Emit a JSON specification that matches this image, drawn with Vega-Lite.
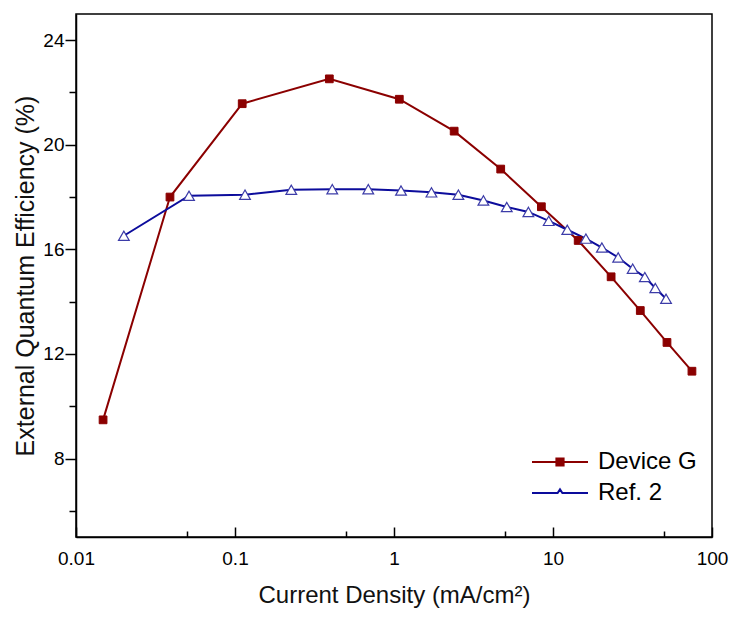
{
  "$schema": "https://vega.github.io/schema/vega-lite/v6.json",
  "width": 636,
  "height": 523,
  "autosize": {"type": "none"},
  "padding": {"left": 76, "top": 14, "right": 22, "bottom": 82},
  "background": "white",
  "config": {
    "font": "Liberation Sans",
    "view": {"stroke": "black", "strokeWidth": 1.5},
    "axis": {
      "domainColor": "black", "domainWidth": 1.5,
      "tickColor": "black", "tickWidth": 1.5,
      "labelColor": "black", "labelFont": "Liberation Sans", "labelFontSize": 19,
      "titleColor": "#111", "titleFont": "Liberation Sans", "titleFontSize": 24, "titleFontWeight": "normal",
      "grid": false
    }
  },
  "data": {
    "values": [
      {"series": "Device G", "j": 0.0148, "eqe": 9.48},
      {"series": "Device G", "j": 0.039, "eqe": 18.0},
      {"series": "Device G", "j": 0.111, "eqe": 21.57},
      {"series": "Device G", "j": 0.392, "eqe": 22.52},
      {"series": "Device G", "j": 1.08, "eqe": 21.74},
      {"series": "Device G", "j": 2.39, "eqe": 20.52},
      {"series": "Device G", "j": 4.69, "eqe": 19.07},
      {"series": "Device G", "j": 8.45, "eqe": 17.63},
      {"series": "Device G", "j": 14.4, "eqe": 16.34},
      {"series": "Device G", "j": 23.2, "eqe": 14.95},
      {"series": "Device G", "j": 35.4, "eqe": 13.66},
      {"series": "Device G", "j": 52.1, "eqe": 12.44},
      {"series": "Device G", "j": 74.8, "eqe": 11.34},
      {"series": "Ref. 2", "j": 0.02, "eqe": 16.52},
      {"series": "Ref. 2", "j": 0.0514, "eqe": 18.05},
      {"series": "Ref. 2", "j": 0.1156, "eqe": 18.09},
      {"series": "Ref. 2", "j": 0.226, "eqe": 18.28},
      {"series": "Ref. 2", "j": 0.409, "eqe": 18.3},
      {"series": "Ref. 2", "j": 0.689, "eqe": 18.3},
      {"series": "Ref. 2", "j": 1.107, "eqe": 18.25},
      {"series": "Ref. 2", "j": 1.72, "eqe": 18.18},
      {"series": "Ref. 2", "j": 2.54, "eqe": 18.09},
      {"series": "Ref. 2", "j": 3.65, "eqe": 17.87},
      {"series": "Ref. 2", "j": 5.12, "eqe": 17.62},
      {"series": "Ref. 2", "j": 7.0, "eqe": 17.43},
      {"series": "Ref. 2", "j": 9.4, "eqe": 17.09},
      {"series": "Ref. 2", "j": 12.3, "eqe": 16.75},
      {"series": "Ref. 2", "j": 16.1, "eqe": 16.41},
      {"series": "Ref. 2", "j": 20.3, "eqe": 16.07},
      {"series": "Ref. 2", "j": 25.7, "eqe": 15.69},
      {"series": "Ref. 2", "j": 31.7, "eqe": 15.26},
      {"series": "Ref. 2", "j": 37.8, "eqe": 14.94},
      {"series": "Ref. 2", "j": 44.0, "eqe": 14.52},
      {"series": "Ref. 2", "j": 51.4, "eqe": 14.11}
    ]
  },
  "resolve": {"axis": {"x": "independent", "y": "independent"}},
  "layer": [
    {
      "mark": {"type": "line", "strokeWidth": 2},
      "encoding": {
        "x": {
          "field": "j", "type": "quantitative",
          "scale": {"type": "log", "domain": [0.01, 100], "nice": false},
          "axis": {
            "orient": "bottom",
            "values": [0.01, 0.1, 1, 10, 100],
            "labelExpr": "datum.value < 0.05 ? '0.01' : datum.value < 0.5 ? '0.1' : datum.value < 5 ? '1' : datum.value < 50 ? '10' : '100'",
            "tickSize": -10,
            "labelPadding": 22,
            "labelFlush": false,
            "labelOverlap": false,
            "title": "Current Density (mA/cm²)",
            "titlePadding": 15
          }
        },
        "y": {
          "field": "eqe", "type": "quantitative",
          "scale": {"domain": [5, 25], "nice": false, "zero": false},
          "axis": {
            "orient": "left",
            "values": [8, 12, 16, 20, 24],
            "tickSize": 11,
            "labelPadding": 1,
            "title": "External Quantum Efficiency (%)",
            "titleFontSize": 25,
            "titlePadding": 4
          }
        },
        "color": {
          "field": "series", "type": "nominal",
          "scale": {"domain": ["Device G", "Ref. 2"], "range": ["#8B0000", "#0C0C9C"]},
          "legend": {
            "orient": "none",
            "legendX": 472,
            "legendY": 436,
            "title": null,
            "padding": 0,
            "symbolSize": 256,
            "symbolStrokeWidth": 2,
            "labelFont": "Liberation Sans",
            "labelFontSize": 24,
            "labelColor": "black",
            "labelOffset": 26,
            "rowPadding": 7,
            "encode": {
              "symbols": {
                "update": {
                  "shape": {"signal": "datum.value == 'Device G' ? 'M-3.5,0H3.5M-0.45,-0.45H0.45V0.45H-0.45Z' : 'M-3.5,0H-0.3L0,-0.45L0.3,0H3.5'"},
                  "fill": {"signal": "datum.value == 'Device G' ? '#8B0000' : 'transparent'"},
                  "stroke": {"signal": "datum.value == 'Device G' ? '#8B0000' : '#0C0C9C'"},
                  "strokeWidth": {"value": 2}
                }
              }
            }
          }
        }
      }
    },
    {
      "transform": [{"filter": "datum.series == 'Device G'"}],
      "mark": {"type": "point", "shape": "square", "filled": true, "fill": "#8B0000", "stroke": "#8B0000", "strokeWidth": 1, "size": 60, "opacity": 1},
      "encoding": {
        "x": {
          "field": "j", "type": "quantitative",
          "axis": {
            "orient": "bottom",
            "values": [0.05, 0.5, 5, 50],
            "labels": false,
            "domain": false,
            "tickSize": -6,
            "title": null
          }
        },
        "y": {
          "field": "eqe", "type": "quantitative",
          "axis": {
            "orient": "left",
            "values": [6, 10, 14, 18, 22],
            "labels": false,
            "domain": false,
            "tickSize": 7,
            "title": null
          }
        }
      }
    },
    {
      "transform": [{"filter": "datum.series == 'Ref. 2'"}],
      "mark": {"type": "point", "shape": "triangle-up", "filled": true, "fill": "#ffffff", "stroke": "#3C3CA8", "strokeWidth": 1.2, "size": 115, "opacity": 1},
      "encoding": {
        "x": {"field": "j", "type": "quantitative", "axis": null},
        "y": {"field": "eqe", "type": "quantitative", "axis": null}
      }
    }
  ]
}
